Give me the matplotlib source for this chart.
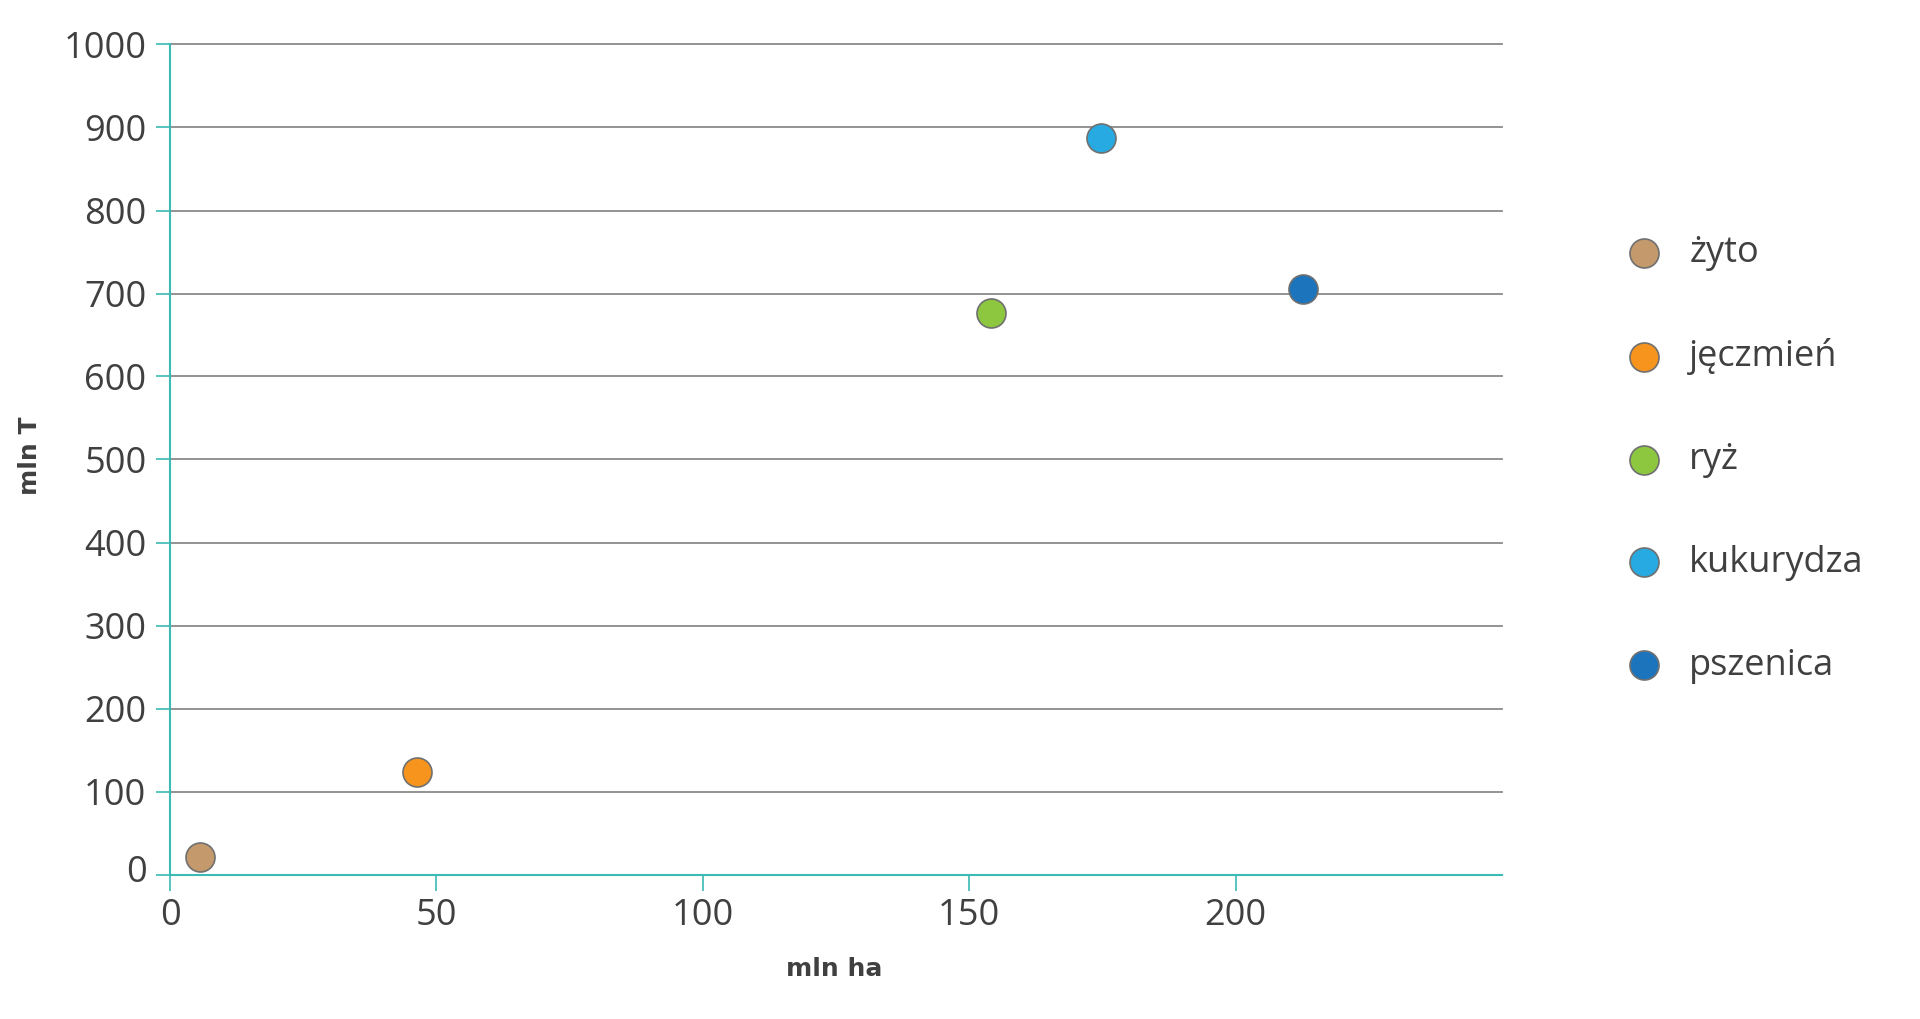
import matplotlib
matplotlib.use("Agg")
import matplotlib.pyplot as plt
import matplotlib.transforms as mtransforms

categories = ["żyto", "jęczmień", "ryż", "kukurydza", "pszenica"]
area_mln_ha = [5.6, 46.4, 154.0, 174.8, 212.7]
prod_mln_t = [21, 124, 676, 887, 705]
colors = ["#C49A6C", "#F7941D", "#8DC63F", "#27AAE1", "#1C75BC"]
x_ticks = [0, 50, 100, 150, 200]
y_ticks = [0, 100, 200, 300, 400, 500, 600, 700, 800, 900, 1000]
x_label = "mln ha"
y_label = "mln T"

TEAL = "#3BBBB3"
TXT = "#404040"

plt.rcParams['font.family'] = ['Open Sans', 'DejaVu Sans']

fig = plt.figure(figsize=(19.2, 10.19), dpi=100)
ax = fig.add_axes([170/1920, 1-874.5/1019, (1502-170)/1920, (874.5-44.5)/1019])

for cat, x, y, c in zip(categories, area_mln_ha, prod_mln_t, colors):
    ax.scatter([x], [y], s=436, color=c, edgecolor="#707070", linewidth=1.2,
               label=cat, zorder=5, clip_on=False)

ax.set_xlim(0, 250)
ax.set_ylim(0, 1000)
ax.set_xticks(x_ticks)
ax.set_yticks(y_ticks)
ax.grid(axis='y', color="#8a8a8a", linewidth=1.3, zorder=1)
ax.set_axisbelow(True)
for gl in ax.get_ygridlines():
    gl.set_clip_on(False)

for s in ['top', 'right']:
    ax.spines[s].set_visible(False)
for s in ['left', 'bottom']:
    ax.spines[s].set_color(TEAL)
    ax.spines[s].set_linewidth(1.5)
    ax.spines[s].set_zorder(3)

ax.tick_params(axis='y', length=10, width=1.2, color=TEAL, labelsize=26, labelcolor=TXT, pad=7)
ax.tick_params(axis='x', length=11.5, width=1.2, color=TEAL, labelsize=26, labelcolor=TXT, pad=5.5)

# the "0" label on the y axis sits slightly above its tick in the reference
t0 = ax.yaxis.get_major_ticks()[0].label1
t0.set_transform(t0.get_transform() + mtransforms.ScaledTranslation(0, 6/100, fig.dpi_scale_trans))

fig.text(834/1920, 1-968.5/1019, x_label, ha='center', va='center', fontsize=18,
         fontweight='bold', color=TXT, family=['DejaVu Sans'])
fig.text(30/1920, 1-456/1019, y_label, ha='center', va='center', fontsize=18,
         fontweight='bold', color=TXT, rotation=90, family=['DejaVu Sans'])

leg = fig.legend(loc='center left', bbox_to_anchor=(1626/1920, 1-459.5/1019),
                 frameon=False, fontsize=26, handlelength=1.0, handletextpad=0.75,
                 labelspacing=1.85, borderpad=0, borderaxespad=0, labelcolor=TXT,
                 scatterpoints=1)

fig.savefig("out.png", dpi=100, facecolor="white")
